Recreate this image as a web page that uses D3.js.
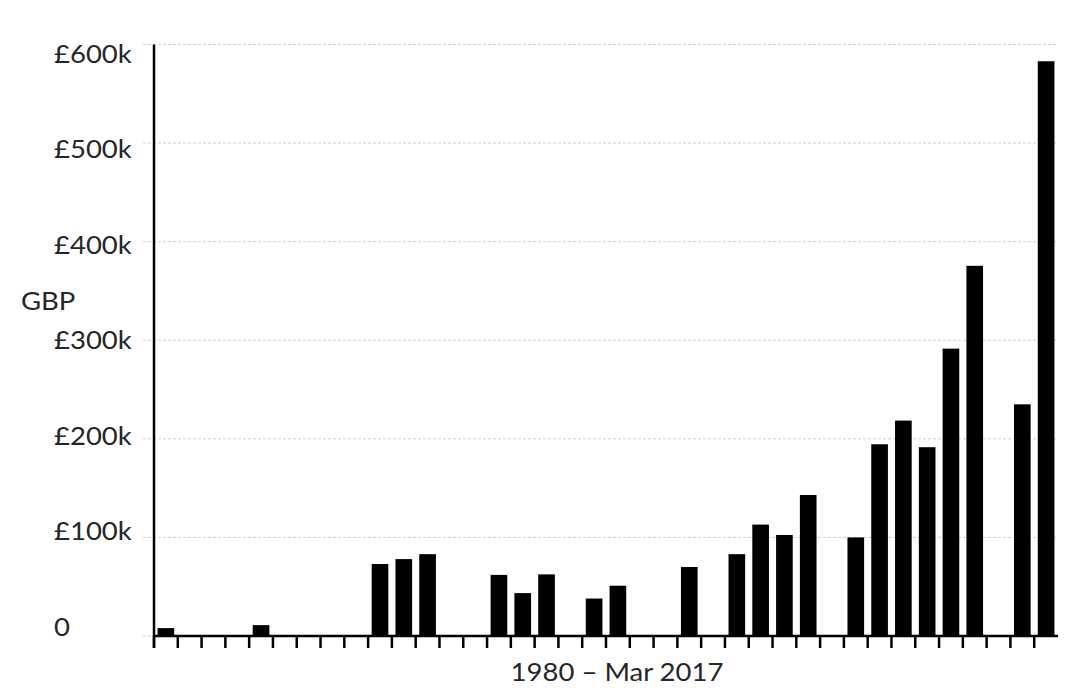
<!DOCTYPE html>
<html>
<head>
<meta charset="utf-8">
<script src="https://cdn.jsdelivr.net/npm/d3@7"></script>
<style>
  html, body { margin: 0; padding: 0; background: #fff; }
  svg { display: block; }
  text { font-family: Lato, "Open Sans", sans-serif; fill: #262626; }
</style>
</head>
<body>
<svg id="chart" width="1080" height="700"></svg>
<script>
const years = d3.range(1980, 2018).map(String);
const values = [8, 0, 0, 0, 11, 0, 0, 0, 0, 73, 78, 83, 0, 0, 62, 43.5, 62.5, 0, 38, 51,
                0, 0, 70, 0, 83, 113, 102.5, 143, 0, 100, 194.5, 218.5, 191.5, 291.5, 375.5, 0, 235, 583];
const yTicks = [0, 100, 200, 300, 400, 500, 600];
const yTickLabels = ["0", "£100k", "£200k", "£300k", "£400k", "£500k", "£600k"];
const yTitle = "GBP";
const xTitle = "1980 \u2013 Mar 2017";

const svg = d3.select("#chart");
const mLeft = 154, mRight = 1058, mTop = 44.5, mBottom = 636;
const sx = 1.1;

const x = d3.scaleBand().domain(years).range([mLeft, mRight]).paddingInner(0.3).paddingOuter(0.15);
const y = d3.scaleLinear().domain([0, 600]).range([mBottom, mTop]);
const yLab = d3.scaleLinear().domain([0, 600]).range([626, 53]);

// gridlines
svg.append("g").selectAll("line").data(yTicks).join("line")
  .attr("x1", 143).attr("x2", mRight)
  .attr("y1", d => y(d)).attr("y2", d => y(d))
  .attr("stroke", "#cfcfcf").attr("stroke-width", 1)
  .attr("stroke-dasharray", "3,2");

// y labels
svg.append("g").selectAll("text").data(yTicks).join("text")
  .attr("transform", d => `translate(54,${yLab(d)}) scale(${sx},1)`)
  .attr("text-anchor", "start").attr("dominant-baseline", "central")
  .style("font-size", "25px")
  .text((d, i) => yTickLabels[i]);

// bars
svg.append("g").selectAll("rect").data(values).join("rect")
  .attr("x", (d, i) => x(years[i]))
  .attr("width", x.bandwidth())
  .attr("y", d => y(d))
  .attr("height", d => mBottom - y(d))
  .attr("fill", "#000");

// x ticks
const offset = x.step() * x.paddingOuter();
svg.append("g").selectAll("line").data(years).join("line")
  .attr("x1", d => x(d) - offset).attr("x2", d => x(d) - offset)
  .attr("y1", mBottom).attr("y2", mBottom + 12)
  .attr("stroke", "#000").attr("stroke-width", 2.5);

// axes lines
svg.append("line").attr("x1", mLeft).attr("x2", mRight).attr("y1", mBottom).attr("y2", mBottom)
  .attr("stroke", "#000").attr("stroke-width", 2.5);
svg.append("line").attr("x1", mLeft).attr("x2", mLeft).attr("y1", mTop).attr("y2", mBottom + 12)
  .attr("stroke", "#000").attr("stroke-width", 2.5);

// titles
svg.append("text").attr("transform", `translate(21,310) scale(${sx},1)`)
  .style("font-size", "25px").text(yTitle);
svg.append("text").attr("transform", `translate(617,681) scale(${sx},1)`)
  .attr("text-anchor", "middle").style("font-size", "25px").text(xTitle);
</script>
</body>
</html>
